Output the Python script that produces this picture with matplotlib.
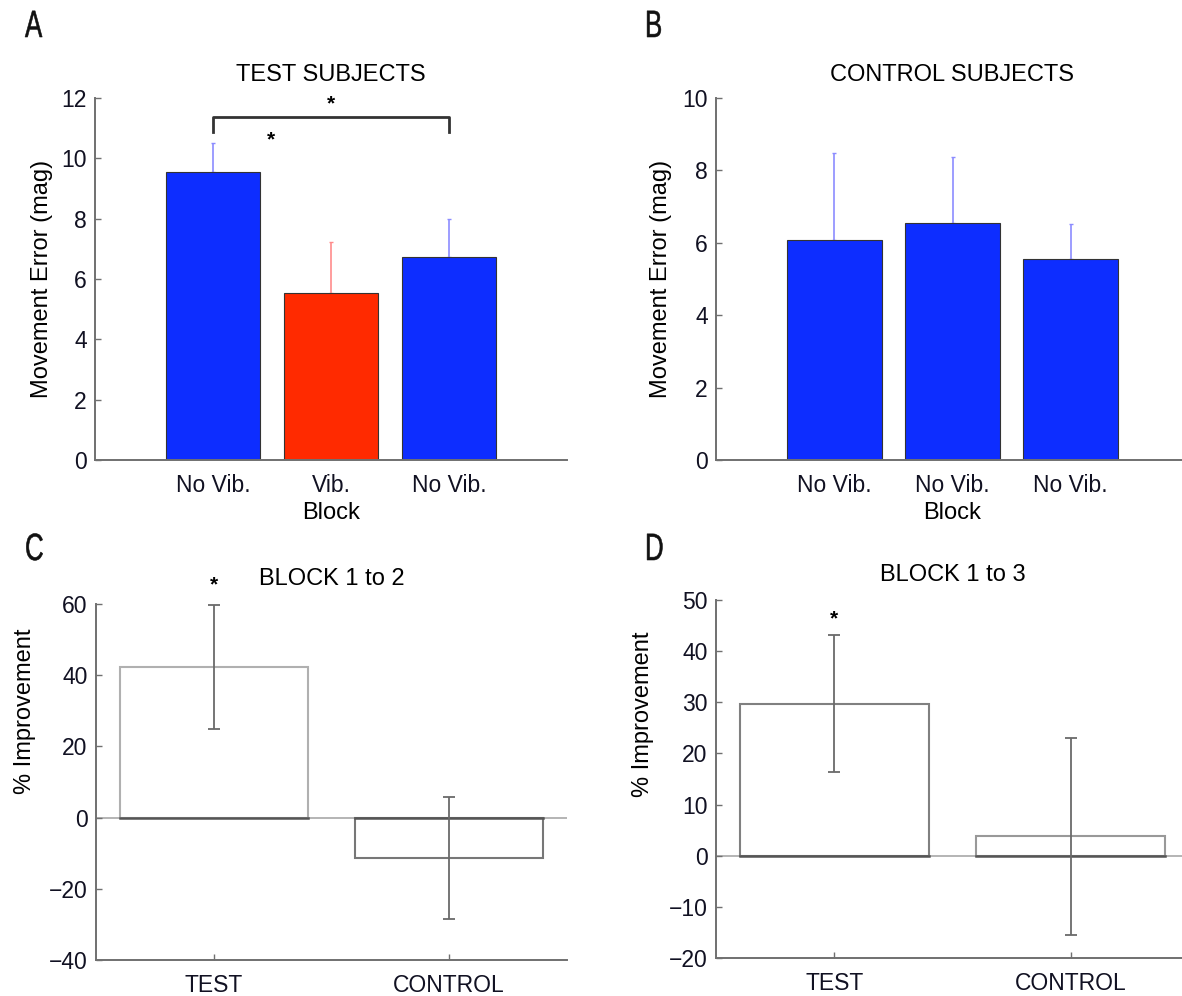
import matplotlib
matplotlib.use("Agg")
import matplotlib.pyplot as plt
from matplotlib.font_manager import FontProperties
from matplotlib.textpath import TextPath
from matplotlib.patches import PathPatch
from matplotlib.transforms import Affine2D, IdentityTransform

# movement error per block (mean, upper error)
block_labels_test = ["No Vib.", "Vib.", "No Vib."]
block_labels_ctrl = ["No Vib.", "No Vib.", "No Vib."]
test_means = [9.55, 5.55, 6.72]
test_err = [0.95, 1.67, 1.27]
ctrl_means = [6.08, 6.55, 5.56]
ctrl_err = [2.40, 1.81, 0.97]

# percent improvement between blocks
groups = ["TEST", "CONTROL"]
impr_1to2 = [42.3, -11.3]
err_1to2 = [17.5, 17.1]
impr_1to3 = [29.7, 3.8]
err_1to3 = [13.4, 19.3]

BLUE = "#0d2dff"
RED = "#ff2a00"
AXCOL = "#707070"
TICK_FS = 16.5
LABEL_FS = 17

plt.rcParams["font.family"] = ["Liberation Sans", "DejaVu Sans"]
plt.rcParams["font.size"] = 13


def style_axes(ax):
    for s in ("top", "right"):
        ax.spines[s].set_visible(False)
    for s in ("left", "bottom"):
        ax.spines[s].set_color(AXCOL)
        ax.spines[s].set_linewidth(1.4)
    ax.tick_params(direction="in", length=4, width=1, color=AXCOL,
                   labelsize=TICK_FS, labelcolor="#111122")
    ax.tick_params(axis="y", pad=6)
    ax.tick_params(axis="x", pad=10)


fig = plt.figure(figsize=(11.82, 9.96), dpi=100)
W, H = 1182.0, 996.0


def add_axes(x0, x1, ytop, ybot):
    return fig.add_axes([x0 / W, 1 - ybot / H, (x1 - x0) / W, (ybot - ytop) / H])


def panel_letter(ch, x, y_base):
    # narrow letter: squeeze a text path horizontally
    tp = TextPath((0, 0), ch, size=38, prop=FontProperties(family="Liberation Sans"))
    tr = Affine2D().scale(0.68, 1.0).translate(x, H - y_base)
    fig.patches.append(PathPatch(tr.transform_path(tp), facecolor="#111111",
                                 edgecolor="#111111", linewidth=0.4,
                                 transform=IdentityTransform(), figure=fig))


axA = add_axes(95, 567, 98, 460)
axB = add_axes(716, 1189, 98, 460)
axC = add_axes(96, 567, 604, 960)
axD = add_axes(716, 1189, 600, 958)

pos3 = [1, 2, 3]

# A: test subjects
axA.bar(pos3, test_means, width=0.8, color=[BLUE, RED, BLUE],
        edgecolor="#333333", linewidth=0.8, zorder=2)
for x, m, e, c in zip(pos3, test_means, test_err, ["#8c8cff", "#ff8c8c", "#8c8cff"]):
    axA.errorbar(x, m, yerr=[[0], [e]], color=c, lw=1.2, capsize=1.5, zorder=1)
axA.set_xlim(0, 4)
axA.set_ylim(0, 12)
axA.set_yticks(range(0, 13, 2))
axA.set_xticks(pos3)
axA.set_xticklabels(block_labels_test)
style_axes(axA)
axA.tick_params(axis="x", length=0)
axA.set_title("TEST SUBJECTS", fontsize=LABEL_FS, pad=12)
axA.set_ylabel("Movement Error (mag)", fontsize=LABEL_FS)
axA.yaxis.set_label_coords(-0.09, 0.5)
axA.set_xlabel("Block", fontsize=LABEL_FS)
axA.xaxis.set_label_coords(0.5, -0.115)
# significance bracket between blocks 1 and 3
axA.plot([1, 1, 3, 3], [10.87, 11.38, 11.38, 10.87], color="#333333", lw=2,
         clip_on=False)
axA.text(2, 11.8, "*", ha="center", va="center", fontsize=15, fontweight="bold")
axA.text(1.49, 10.6, "*", ha="center", va="center", fontsize=15, fontweight="bold")

# B: control subjects
axB.bar(pos3, ctrl_means, width=0.8, color=BLUE, edgecolor="#333333",
        linewidth=0.8, zorder=2)
for x, m, e in zip(pos3, ctrl_means, ctrl_err):
    axB.errorbar(x, m, yerr=[[0], [e]], color="#8c8cff", lw=1.2, capsize=1.5, zorder=1)
axB.set_xlim(0, 4)
axB.set_ylim(0, 10)
axB.set_yticks(range(0, 11, 2))
axB.set_xticks(pos3)
axB.set_xticklabels(block_labels_ctrl)
style_axes(axB)
axB.tick_params(axis="x", length=0)
axB.set_title("CONTROL SUBJECTS", fontsize=LABEL_FS, pad=12)
axB.set_ylabel("Movement Error (mag)", fontsize=LABEL_FS)
axB.yaxis.set_label_coords(-0.092, 0.5)
axB.set_xlabel("Block", fontsize=LABEL_FS)
axB.xaxis.set_label_coords(0.5, -0.115)


def improvement_panel(ax, vals, errs, ylim, step, title, star_y, edgecols):
    pos = [1, 2]
    ax.axhline(0, color="#b4b4b4", lw=1.4, zorder=1)
    ax.bar(pos, vals, width=0.8, color="white", edgecolor=edgecols,
           linewidth=1.5, zorder=2)
    # dark bar baseline
    for x in pos:
        ax.plot([x - 0.4, x + 0.4], [0, 0], color="#555555", lw=1.8, zorder=3)
    ax.errorbar(pos, vals, yerr=errs, fmt="none", ecolor="#6a6a6a", lw=1.3,
                capsize=4, capthick=1.3, zorder=4)
    ax.set_xlim(0.5, 2.5)
    ax.set_ylim(*ylim)
    ax.set_yticks(range(ylim[0], ylim[1] + 1, step))
    ax.yaxis.set_major_formatter(matplotlib.ticker.FuncFormatter(
        lambda v, p: ("\u2212%d" % -v) if v < 0 else "%d" % v))
    ax.set_xticks(pos)
    ax.set_xticklabels(groups)
    style_axes(ax)
    ax.set_title(title, fontsize=LABEL_FS, pad=14)
    ax.set_ylabel("% Improvement", fontsize=LABEL_FS)
    ax.text(1, star_y, "*", ha="center", va="center", fontsize=15,
            fontweight="bold")


improvement_panel(axC, impr_1to2, err_1to2, (-40, 60), 20, "BLOCK 1 to 2", 65.5,
                  ["#b0b0b0", "#777777"])
axC.yaxis.set_label_coords(-0.128, 0.70)
improvement_panel(axD, impr_1to3, err_1to3, (-20, 50), 10, "BLOCK 1 to 3", 46.3,
                  ["#808080", "#999999"])
axD.yaxis.set_label_coords(-0.131, 0.68)

for ch, x, yb in [("A", 25, 37), ("B", 645, 37), ("C", 25, 560), ("D", 645, 560)]:
    panel_letter(ch, x, yb)

fig.savefig("out.png", dpi=100)
